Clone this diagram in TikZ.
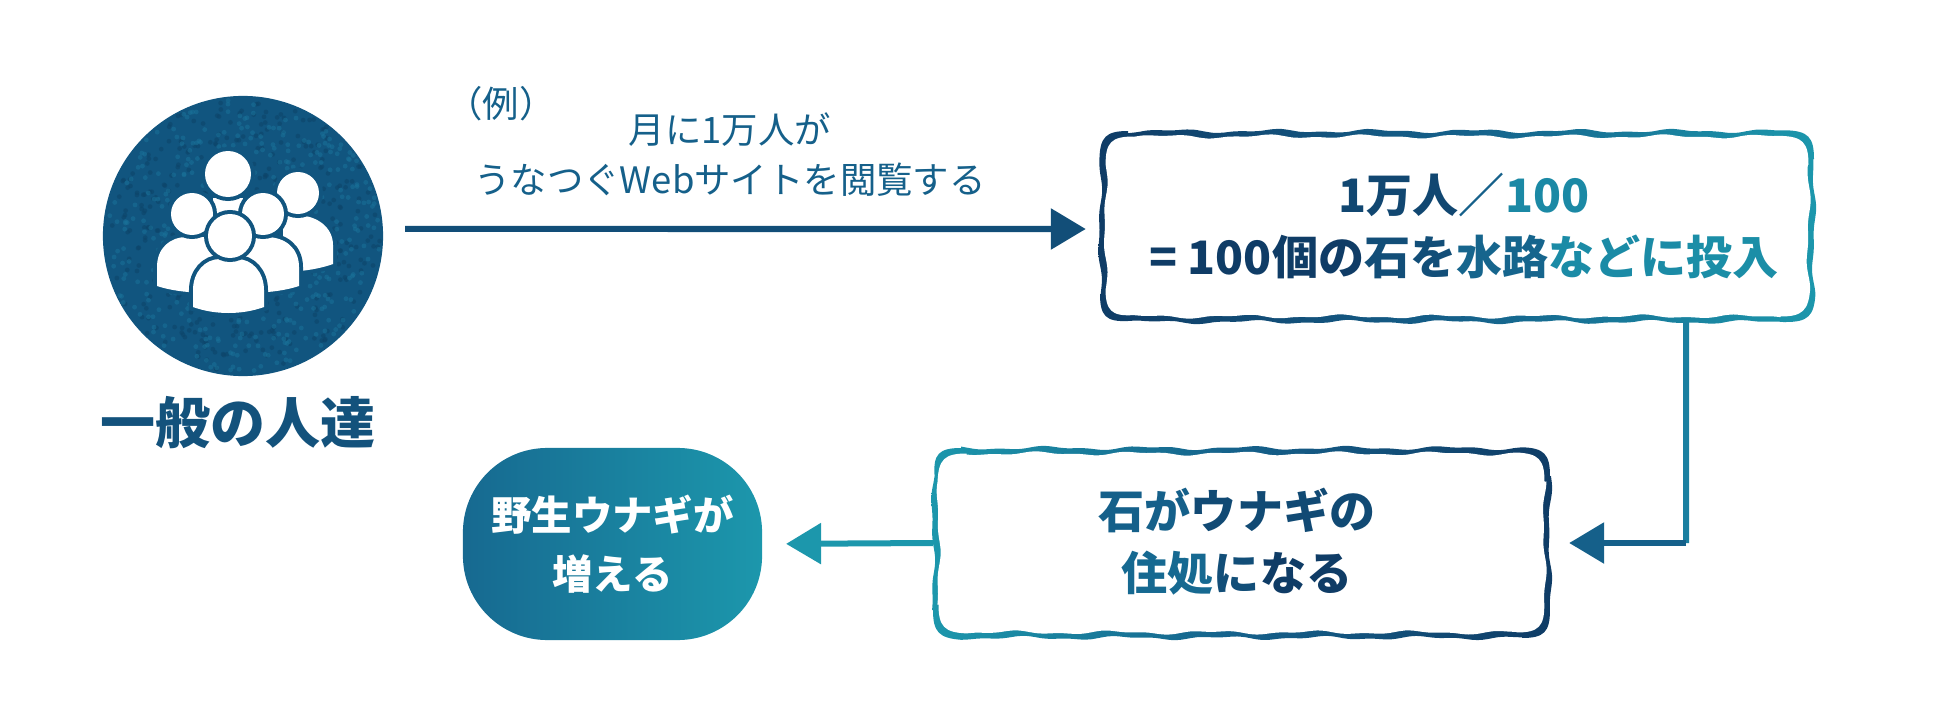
\documentclass[tikz,border=0pt]{standalone}
\usepackage{fontspec}
\setmainfont{Noto Sans CJK JP}
\usetikzlibrary{arrows.meta,calc}
\definecolor{navyc}{HTML}{0F3C66}
\definecolor{bluec}{HTML}{15608A}
\definecolor{midc}{HTML}{1A7FA0}
\definecolor{tealc}{HTML}{1C97AC}
\definecolor{circlec}{HTML}{11557F}
\definecolor{speckdark}{HTML}{0D4469}
\definecolor{specklight}{HTML}{1A7299}
\pgfmathdeclarefunction{wig}{2}{\pgfmathparse{1.4*sin(3.6*(#1-900)+#2)+0.8*sin(8.3*(#1-900)+1.7*#2)}}
% wobbly rounded outline: x0,y0,x1,y1,phase
\newcommand{\wavypath}[5]{
  plot[smooth,domain=#1+28:#3-28,samples=70] (\x,{#2+wig(\x,#5)})
  .. controls (#3-6,#2) and (#3,#2+6) .. (#3,#2+28)
  -- plot[smooth,domain=#2+28:#4-28,samples=24] ({#3+wig(\x,#5+50)},\x)
  .. controls (#3,#4-6) and (#3-6,#4) .. (#3-28,#4)
  -- plot[smooth,domain=#3-28:#1+28,samples=70] (\x,{#4+wig(\x,#5+90)})
  .. controls (#1+6,#4) and (#1,#4-6) .. (#1,#4-28)
  -- plot[smooth,domain=#4-28:#2+28,samples=24] ({#1+wig(\x,#5+130)},\x)
  .. controls (#1,#2+6) and (#1+6,#2) .. (#1+28,#2) -- cycle
}
\tikzset{
  anchorbox/.style={inner sep=0pt,outer sep=0pt},
  arrowline/.style={line width=0.06cm,-{Triangle[length=0.35cm,width=0.4cm]}},
  plainline/.style={line width=0.06cm},
  person/.style={fill=white,preaction={draw=circlec,line width=0.08cm}},
  thintext/.style={font=\fontsize{10.35pt}{14.2pt}\selectfont,text=bluec,align=center},
  boldtext/.style={font=\fontsize{13.1pt}{17.7pt}\selectfont\bfseries,align=center},
}
\begin{document}
\begin{tikzpicture}[x=0.01cm,y=-0.01cm]
    \useasboundingbox (0,0) rectangle (1950,721);
    \pgfmathsetseed{11}
    % people circle
    \node[circle,fill=circlec,minimum size=2.8cm,inner sep=0pt,outer sep=0pt] (people) at (243,236) {};
    \foreach \c in {speckdark,specklight}
      \foreach \i in {1,...,450} {
        \pgfmathsetmacro{\a}{360*rnd}
        \pgfmathsetmacro{\r}{137*sqrt(rnd)}
        \fill[\c,opacity=0.55] ($(243,236)+(\a:\r)$) circle [radius=2.4];
      }
    \fill[person] (283,215) -- (295,215) .. controls (318,215) and (333,228) .. (333,245) -- (333,264)
        .. controls (322,268) and (310,270) .. (300,271) -- (283,271) -- cycle;
    \fill[person] (298,193) circle [radius=21];
    \fill[person] (213,198) -- (243,198) -- (243,240) -- (213,240) -- cycle;
    \fill[person] (228,174) circle [radius=23];
    \fill[person] (157,286) -- (157,267) .. controls (157,248) and (170,237) .. (187,237) -- (230,237) -- (230,292)
        -- (188,292) .. controls (177,291) and (166,289) .. (157,286) -- cycle;
    \fill[person] (299,286) -- (299,267) .. controls (299,248) and (285,237) .. (266,237) -- (225,237) -- (225,292)
        -- (268,292) .. controls (279,291) and (290,289) .. (299,286) -- cycle;
    \fill[person] (192,214) circle [radius=21];
    \fill[person] (263,214) circle [radius=21];
    \fill[person] (193,307) -- (193,290) .. controls (193,272) and (205,259) .. (220,259) -- (237,259)
        .. controls (252,259) and (264,272) .. (264,290) -- (264,307) .. controls (242,315) and (215,315) .. (193,307) -- cycle;
    \fill[person] (230,236) circle [radius=22];
    \node[font=\fontsize{15.65pt}{20pt}\selectfont\bfseries,text=bluec!60!navyc] (peoplelabel) at (238,423) {一般の人達};

    % example text
    \node[thintext] (examplemark) at (501,104) {（例）};
    \node[thintext] (examplelabel) at (730,155) {月に1万人が\\うなつぐWebサイトを閲覧する};

    % boxes
    \shade[left color=navyc,right color=tealc,middle color=bluec] \wavypath{1100}{131}{1814}{322}{0};
    \fill[white] \wavypath{1105.5}{136.5}{1808.5}{316.5}{35};
    \node[anchorbox,minimum width=7.14cm,minimum height=1.91cm] (stonebox) at (1457,226.5) {};
    \node[boldtext] (stonetext) at (1464,226)
        {\textcolor{navyc!70!bluec}{1万人}\textcolor{bluec}{／}\textcolor{midc!60!tealc}{100}\\
         \textcolor{navyc}{= 100個の}\textcolor{navyc!50!bluec}{石を}\textcolor{bluec!85!midc}{水路}\textcolor{midc!50!tealc}{などに}\textcolor{midc!40!tealc}{投入}};
    \shade[left color=tealc,right color=navyc,middle color=bluec] \wavypath{933}{448}{1550}{638}{100};
    \fill[white] \wavypath{938.5}{453.5}{1544.5}{632.5}{135};
    \node[anchorbox,minimum width=6.17cm,minimum height=1.90cm] (homebox) at (1241.5,543) {};
    \node[boldtext] (hometext) at (1237,542)
        {\textcolor{bluec}{石が}\textcolor{bluec!40!navyc}{ウナギの}\\
         \textcolor{bluec!70!midc}{住処}\textcolor{bluec!50!navyc}{に}\textcolor{navyc}{なる}};
    \node[shade,shading angle=40,left color=bluec!70!midc,middle color=tealc!55!midc,right color=tealc,rounded corners=24pt,minimum width=2.99cm,minimum height=1.92cm,
        anchorbox,align=center,text=white,font=\fontsize{11.5pt}{16.8pt}\selectfont\bfseries] (eelblob) at (612.5,544) {野生ウナギが\\増える};

    % connectors
    \coordinate (bend) at (1686,543);
    \draw[arrowline,bluec!50!navyc,shorten <=0.22cm,shorten >=0.14cm] ([yshift=0.07cm]people.east) -- ([yshift=-0.025cm]stonebox.west);
    \draw[plainline,midc] ([xshift=2.29cm]stonebox.south) -- (bend);
    \draw[arrowline,bluec,shorten >=0.19cm] (bend) -- (homebox.east);
    \draw[arrowline,tealc,shorten >=0.24cm] (homebox.west) -- (eelblob.east);
\end{tikzpicture}
\end{document}
